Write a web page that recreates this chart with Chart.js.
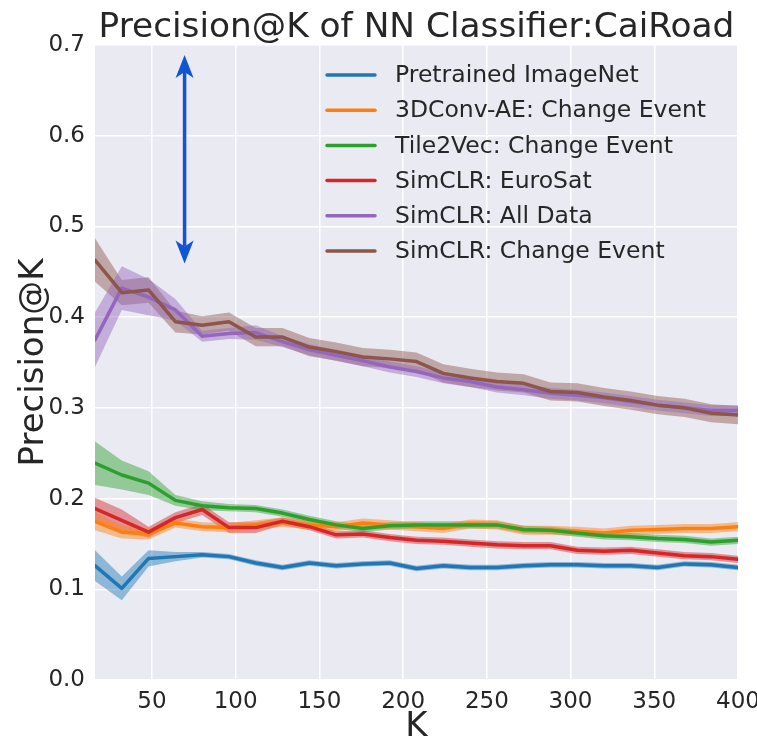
<!DOCTYPE html>
<html>
<head>
<meta charset="utf-8">
<script src="https://cdn.jsdelivr.net/npm/chart.js@4.4.1/dist/chart.umd.min.js"></script>
<style>
  html, body { margin: 0; padding: 0; background: #ffffff; }
  #wrap { width: 757px; height: 744px; position: relative; }
</style>
</head>
<body>
<div id="wrap"><canvas id="c" width="757" height="744"></canvas></div>
<script>
// ---- data ----
const K = [16, 32, 48, 64, 80, 96, 112, 128, 144, 160, 176, 192, 208, 224, 240, 256, 272, 288, 304, 320, 336, 352, 368, 384, 400];
const xTicks = [50, 100, 150, 200, 250, 300, 350, 400];
const yTicks = [0.0, 0.1, 0.2, 0.3, 0.4, 0.5, 0.6, 0.7];

const seriesNames = ["Pretrained ImageNet", "3DConv-AE: Change Event", "Tile2Vec: Change Event", "SimCLR: EuroSat", "SimCLR: All Data", "SimCLR: Change Event"];

const pretrainedImageNet = [0.126, 0.101, 0.134, 0.136, 0.138, 0.136, 0.129, 0.124, 0.129, 0.126, 0.128, 0.129, 0.123, 0.126, 0.124, 0.124, 0.126, 0.127, 0.127, 0.126, 0.126, 0.124, 0.128, 0.127, 0.124];
const pretrainedImageNetErr = [0.017, 0.013, 0.009, 0.005, 0.003, 0.003, 0.003, 0.003, 0.003, 0.003, 0.003, 0.003, 0.003, 0.003, 0.003, 0.003, 0.003, 0.003, 0.003, 0.003, 0.003, 0.003, 0.003, 0.003, 0.003];

const convAE = [0.175, 0.163, 0.161, 0.173, 0.169, 0.168, 0.171, 0.174, 0.171, 0.169, 0.173, 0.171, 0.169, 0.167, 0.172, 0.171, 0.165, 0.165, 0.164, 0.162, 0.165, 0.166, 0.167, 0.167, 0.169];
const convAEErr = [0.010, 0.007, 0.006, 0.005, 0.005, 0.005, 0.005, 0.005, 0.005, 0.005, 0.005, 0.005, 0.005, 0.005, 0.005, 0.005, 0.005, 0.005, 0.005, 0.005, 0.005, 0.005, 0.005, 0.005, 0.005];

const tile2vec = [0.239, 0.226, 0.217, 0.198, 0.192, 0.190, 0.189, 0.184, 0.177, 0.171, 0.167, 0.170, 0.171, 0.171, 0.171, 0.171, 0.166, 0.165, 0.162, 0.159, 0.158, 0.156, 0.155, 0.152, 0.154];
const tile2vecErr = [0.024, 0.016, 0.013, 0.006, 0.005, 0.004, 0.004, 0.004, 0.004, 0.004, 0.004, 0.004, 0.004, 0.004, 0.004, 0.004, 0.004, 0.004, 0.004, 0.004, 0.004, 0.004, 0.004, 0.004, 0.004];

const simclrEuroSat = [0.189, 0.176, 0.163, 0.179, 0.188, 0.168, 0.168, 0.175, 0.169, 0.160, 0.161, 0.157, 0.154, 0.153, 0.151, 0.149, 0.148, 0.148, 0.143, 0.142, 0.143, 0.140, 0.137, 0.136, 0.133];
const simclrEuroSatErr = [0.012, 0.012, 0.006, 0.006, 0.006, 0.006, 0.006, 0.004, 0.004, 0.004, 0.004, 0.004, 0.004, 0.004, 0.004, 0.004, 0.004, 0.004, 0.004, 0.004, 0.004, 0.004, 0.004, 0.004, 0.004];

const simclrAllData = [0.375, 0.432, 0.422, 0.408, 0.379, 0.382, 0.383, 0.373, 0.364, 0.358, 0.352, 0.345, 0.340, 0.333, 0.329, 0.323, 0.320, 0.316, 0.314, 0.311, 0.307, 0.303, 0.300, 0.297, 0.297];
const simclrAllDataErr = [0.030, 0.024, 0.020, 0.012, 0.006, 0.006, 0.008, 0.006, 0.006, 0.006, 0.006, 0.006, 0.006, 0.006, 0.006, 0.006, 0.006, 0.006, 0.006, 0.006, 0.006, 0.006, 0.006, 0.006, 0.006];

const simclrChange = [0.463, 0.427, 0.430, 0.395, 0.391, 0.395, 0.378, 0.378, 0.367, 0.362, 0.356, 0.354, 0.351, 0.338, 0.333, 0.329, 0.327, 0.318, 0.317, 0.312, 0.308, 0.303, 0.300, 0.294, 0.292];
const simclrChangeErr = [0.024, 0.014, 0.014, 0.012, 0.010, 0.010, 0.010, 0.010, 0.010, 0.010, 0.010, 0.010, 0.010, 0.010, 0.010, 0.010, 0.010, 0.010, 0.010, 0.010, 0.010, 0.010, 0.010, 0.010, 0.010];

// arrow annotation (data coordinates)
const arrowK = 69.5;
const arrowTop = 0.689;
const arrowBottom = 0.459;

const titleText = "Precision@K of NN Classifier:CaiRoad";

// ---- styling ----
const colors = ["#1f77b4", "#ff7f0e", "#2ca02c", "#d62728", "#9467bd", "#8c564b"];
const bandAlpha = 0.45;
const means = [pretrainedImageNet, convAE, tile2vec, simclrEuroSat, simclrAllData, simclrChange];
const errs = [pretrainedImageNetErr, convAEErr, tile2vecErr, simclrEuroSatErr, simclrAllDataErr, simclrChangeErr];
const FONT = "'DejaVu Sans', sans-serif";
const TEXT = "#262626";

function rgba(hex, a) {
  const n = parseInt(hex.slice(1), 16);
  return `rgba(${(n >> 16) & 255},${(n >> 8) & 255},${n & 255},${a})`;
}

const datasets = [];
means.forEach((m, i) => {
  datasets.push({
    label: "_upper" + i,
    data: K.map((k, j) => ({ x: k, y: m[j] + errs[i][j] })),
    borderWidth: 0, pointRadius: 0, borderColor: "rgba(0,0,0,0)",
    backgroundColor: rgba(colors[i], bandAlpha),
    fill: "+1", order: 10, tension: 0
  });
  datasets.push({
    label: "_lower" + i,
    data: K.map((k, j) => ({ x: k, y: m[j] - errs[i][j] })),
    borderWidth: 0, pointRadius: 0, borderColor: "rgba(0,0,0,0)",
    fill: false, order: 10, tension: 0
  });
});
means.forEach((m, i) => {
  datasets.push({
    label: seriesNames[i],
    data: K.map((k, j) => ({ x: k, y: m[j] })),
    borderColor: colors[i], backgroundColor: colors[i],
    borderWidth: 3.5, pointRadius: 0, fill: false, tension: 0,
    borderCapStyle: "round", borderJoinStyle: "round",
    order: -i
  });
});

const bgPlugin = {
  id: "bg",
  beforeDraw(chart) {
    const { ctx, chartArea: a } = chart;
    ctx.save();
    ctx.fillStyle = "#ffffff";
    ctx.fillRect(0, 0, chart.width, chart.height);
    ctx.fillStyle = "#eaeaf2";
    ctx.fillRect(a.left, a.top, a.right - a.left, a.bottom - a.top);
    ctx.restore();
  }
};

const decoPlugin = {
  id: "deco",
  afterDatasetsDraw(chart) {
    const { ctx, scales } = chart;
    const x = scales.x.getPixelForValue(arrowK);
    const yT = scales.y.getPixelForValue(arrowTop);
    const yB = scales.y.getPixelForValue(arrowBottom);
    const col = "#1155d4";
    const hl = 23, hw = 9, notch = 6;
    ctx.save();
    ctx.strokeStyle = col; ctx.fillStyle = col; ctx.lineWidth = 3.5;
    ctx.beginPath(); ctx.moveTo(x, yT + hl - notch); ctx.lineTo(x, yB - hl + notch); ctx.stroke();
    ctx.beginPath();
    ctx.moveTo(x, yT); ctx.lineTo(x + hw, yT + hl); ctx.lineTo(x, yT + hl - notch); ctx.lineTo(x - hw, yT + hl); ctx.closePath(); ctx.fill();
    ctx.beginPath();
    ctx.moveTo(x, yB); ctx.lineTo(x + hw, yB - hl); ctx.lineTo(x, yB - hl + notch); ctx.lineTo(x - hw, yB - hl); ctx.closePath(); ctx.fill();
    ctx.restore();
  },
  afterDraw(chart) {
    const { ctx, chartArea: a } = chart;
    ctx.save();
    ctx.fillStyle = TEXT;
    ctx.font = `32px ${FONT}`;
    const w = ctx.measureText(titleText).width;
    const size = 32 * 636 / w;
    ctx.font = `${size}px ${FONT}`;
    ctx.textAlign = "center"; ctx.textBaseline = "alphabetic";
    ctx.fillText(titleText, (a.left + a.right) / 2, 37);
    ctx.font = `23.5px ${FONT}`;
    ctx.textAlign = "left"; ctx.textBaseline = "middle";
    seriesNames.forEach((n, i) => {
      const y = 75 + i * 35.2;
      ctx.strokeStyle = colors[i]; ctx.lineWidth = 3.5; ctx.lineCap = "round";
      ctx.beginPath(); ctx.moveTo(327, y); ctx.lineTo(375, y); ctx.stroke();
      ctx.fillStyle = TEXT;
      ctx.fillText(n, 395, y + 1);
    });
    ctx.restore();
  }
};

new Chart(document.getElementById("c"), {
  type: "line",
  data: { datasets },
  options: {
    responsive: false, animation: false, devicePixelRatio: 1,
    layout: { padding: { top: 45, right: 19, left: 0, bottom: 0 } },
    plugins: { legend: { display: false }, tooltip: { enabled: false }, title: { display: false } },
    scales: {
      x: {
        type: "linear", min: 16, max: 400,
        afterBuildTicks(s) { s.ticks = xTicks.map(v => ({ value: v })); },
        afterFit(s) { s.height = 64; s.paddingLeft = 0; s.paddingRight = 0; },
        grid: { color: "#ffffff", lineWidth: 1.5, drawTicks: false },
        border: { display: false },
        ticks: { color: TEXT, font: { family: FONT, size: 23 }, padding: 8, maxRotation: 0, autoSkip: false },
        title: { display: true, text: "K", color: TEXT, font: { family: FONT, size: 34, lineHeight: 1.0 }, padding: { top: 0, bottom: 0 } }
      },
      y: {
        type: "linear", min: 0, max: 0.7,
        afterBuildTicks(s) { s.ticks = yTicks.map(v => ({ value: v })); },
        afterFit(s) { s.width = 95; s.paddingTop = 0; s.paddingBottom = 0; },
        grid: { color: "#ffffff", lineWidth: 1.5, drawTicks: false },
        border: { display: false },
        ticks: { color: TEXT, font: { family: FONT, size: 23 }, padding: 10, callback: v => v.toFixed(1) },
        title: { display: true, text: "Precision@K", color: TEXT, font: { family: FONT, size: 34 }, padding: { top: 14, bottom: 0 } }
      }
    }
  },
  plugins: [bgPlugin, decoPlugin]
});
</script>
</body>
</html>
